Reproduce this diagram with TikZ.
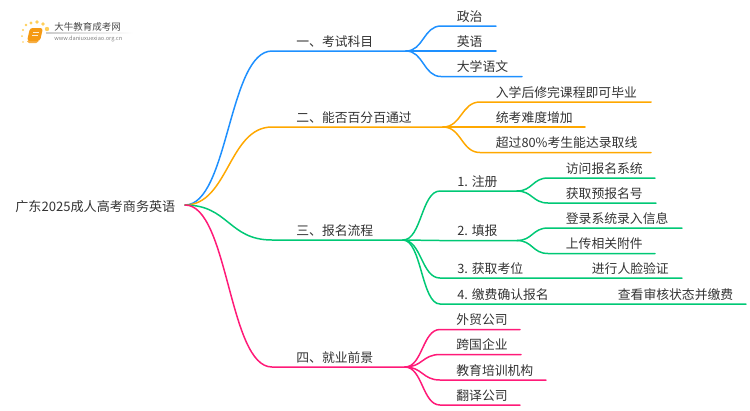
\documentclass[tikz,border=0pt]{standalone}
\usepackage{fontspec}
\setmainfont{Noto Sans CJK SC}
\usetikzlibrary{positioning,calc}
\definecolor{lblue}{HTML}{1E90FF}
\definecolor{lorange}{HTML}{FFA800}
\definecolor{lgreen}{HTML}{00C875}
\definecolor{lpink}{HTML}{FF1A78}
\definecolor{ltext}{HTML}{333333}
\definecolor{ldot}{HTML}{FFCF5A}
\definecolor{lbook}{HTML}{F59A14}
\tikzset{
  lbl/.style={anchor=west,inner sep=0pt,text=ltext,font=\fontsize{7.3}{9}\selectfont},
  twig/.style={line width=0.85pt,line cap=round},
  curvy/.style={to path={.. controls ($(\tikztostart)!0.5!(\tikztostart -| \tikztotarget)$) and ($(\tikztotarget)!0.5!(\tikztotarget -| \tikztostart)$) .. (\tikztotarget)}}
}
\begin{document}
\begin{tikzpicture}[x=0.02cm,y=-0.02cm]
    \useasboundingbox (0,0) rectangle (750,410);
    % logo
    \foreach \xx/\yy/\rr in {23/42/0.8,22/36/1,23/30/1.2,26/25/1.4,31/23/1.7,37/22/1.8,43/24/1.9,47/29/2.2}{
      \fill[ldot] (\xx,\yy) circle (\rr);
    }
    \fill[lbook!80!white,rounded corners=1pt] (27,40) -- (39,40) -- (38,43) -- (27,43) -- cycle;
    \fill[lbook,rounded corners=1.5pt] (30,28) -- (43,28) -- (40,41) -- (27,41) -- cycle;
    \draw[white!80!lbook,line width=0.4pt] (33,32) -- (39,32) (32,35) -- (38,35);
    \shade[left color=gray!40,right color=white] (46,32.6) rectangle (133,33.4);
    \node[lbl,text=ltext!90,font=\fontsize{5.4}{6}\selectfont] (logoname) at (54,27) {大牛教育成考网};
    \node[lbl,text=gray,font=\fontsize{3.2}{4}\selectfont] (logourl) at (54,39) {www.daniuxuexiao.org.cn};
    % root
    \node[lbl,font=\fontsize{7.45}{9}\selectfont] (root) at (15,206.5) {广东2025成人高考商务英语};
    \coordinate (r0) at (185,205);
    % main branches
    \foreach \nm/\col/\yy/\xf/\txt in {a/lblue/51/406/一、考试科目,b/lorange/127/443/二、能否百分百通过,c/lgreen/240/403/三、报名流程,d/lpink/367/405/四、就业前景}{
      \node[lbl] (\nm) at (296,\yy-9.5) {\txt};
      \coordinate (\nm0) at (272,\yy);
      \coordinate (\nm f) at (\xf,\yy);
      \draw[twig,\col] (r0) to[curvy] (\nm0) -- (\nm f);
    }
    % leaves
    \foreach \nm/\src/\col/\xs/\xt/\xe/\yy/\txt in {
      a1/af/lblue/441/456.5/496/26/政治,a2/af/lblue/441/456.5/496/51/英语,a3/af/lblue/441/456.5/522/76.5/大学语文,
      b1/bf/lorange/480/495.5/651/102/入学后修完课程即可毕业,b2/bf/lorange/480/495.5/585/127/统考难度增加,b3/bf/lorange/480/495.5/651/152.5/超过80\%考生能达录取线,
      d1/df/lpink/440/456/520/329.5/外贸公司,d2/df/lpink/440/456/521/354.5/跨国企业,d3/df/lpink/440/456/546/380/教育培训机构,d4/df/lpink/440/456/520/405/翻译公司,
      c1/cf/lgreen/440/457/517/191/1. 注册,c2/cf/lgreen/440/457/517/240.5/2. 填报,c3/cf/lgreen/440/457/682/278/3. 获取考位,c4/cf/lgreen/440/457/746/304/4. 缴费确认报名}{
      \node[lbl] (\nm) at (\xt,\yy-9.5) {\txt};
      \coordinate (\nm s) at (\xs,\yy);
      \coordinate (\nm e) at (\xe,\yy);
      \draw[twig,\col] (\src) to[curvy] (\nm s) -- (\nm e);
    }
    % second level
    \foreach \nm/\src/\xe/\yy/\txt in {
      c11/c1e/655/178/访问报名系统,c12/c1e/656/203/获取预报名号,c21/c2e/682/228/登录系统录入信息,c22/c2e/655/253.5/上传相关附件}{
      \node[lbl] (\nm) at (565.5,\yy-9.5) {\txt};
      \coordinate (\nm s) at (548,\yy);
      \coordinate (\nm e) at (\xe,\yy);
      \draw[twig,lgreen] (\src) to[curvy] (\nm s) -- (\nm e);
    }
    \node[lbl] (c31) at (591.5,268.5) {进行人脸验证};
    \node[lbl] (c41) at (617.5,294.5) {查看审核状态并缴费};
\end{tikzpicture}
\end{document}
